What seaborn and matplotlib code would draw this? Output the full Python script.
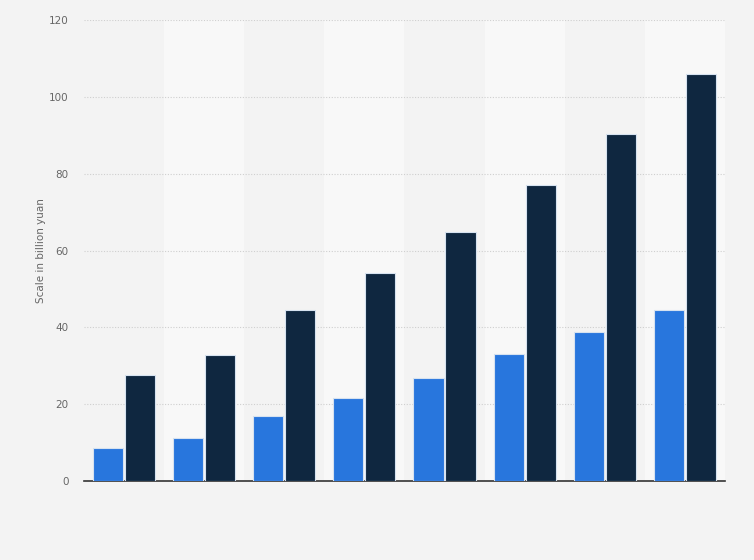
import matplotlib
matplotlib.use('Agg')
import matplotlib.pyplot as plt
import seaborn as sns
import pandas as pd

# categories (x labels are not shown in the reference)
years = ['2016', '2017', '2018', '2019', '2020', '2021', '2022', '2023']
series_names = ['Series A', 'Series B']
values_a = [8.6, 11.2, 16.9, 21.6, 26.8, 33.1, 38.8, 44.5]
values_b = [27.6, 32.8, 44.5, 54.1, 64.8, 77.0, 90.3, 105.9]
colors = ['#2876dd', '#0f2740']

df = pd.DataFrame({
    'year': years * 2,
    'series': [series_names[0]] * len(years) + [series_names[1]] * len(years),
    'value': values_a + values_b,
})

sns.set_style('white')
plt.rcParams['font.family'] = ['DejaVu Sans']

fig = plt.figure(figsize=(7.54, 5.6), dpi=100, facecolor='#f3f3f3')
ax = fig.add_axes([0.1114, 0.141, 0.85, 0.8233])
ax.set_facecolor('#f3f3f3')

# alternating column bands
for i in range(len(years)):
    if i % 2 == 1:
        ax.axvspan(i - 0.5, i + 0.5, color='#f8f8f8', zorder=0, lw=0)

sns.barplot(data=df, x='year', y='value', hue='series', palette=colors,
            saturation=1, width=0.8, gap=0.06, edgecolor='#d6e2f0', linewidth=0.8,
            legend=False, ax=ax, zorder=3)

ax.set_xlim(-0.5, len(years) - 0.5)
ax.set_ylim(0, 120)
ax.set_yticks([0, 20, 40, 60, 80, 100, 120])
ax.yaxis.grid(True, linestyle=(0, (1, 1.5)), color='#cfcfcf', linewidth=0.8, zorder=1)
ax.set_axisbelow(True)

ax.set_xticks(range(len(years)))
ax.set_xticklabels([])
ax.tick_params(axis='x', length=0)
ax.tick_params(axis='y', length=0, labelsize=7.5, labelcolor='#666666', pad=11)

for s in ['top', 'right', 'left']:
    ax.spines[s].set_visible(False)
ax.spines['bottom'].set_color('#333333')
ax.spines['bottom'].set_linewidth(1.2)

ax.set_xlabel('')
ax.set_ylabel('Scale in billion yuan', fontsize=7.5, color='#666666', labelpad=2)

fig.savefig('out.png', dpi=100, facecolor=fig.get_facecolor())
